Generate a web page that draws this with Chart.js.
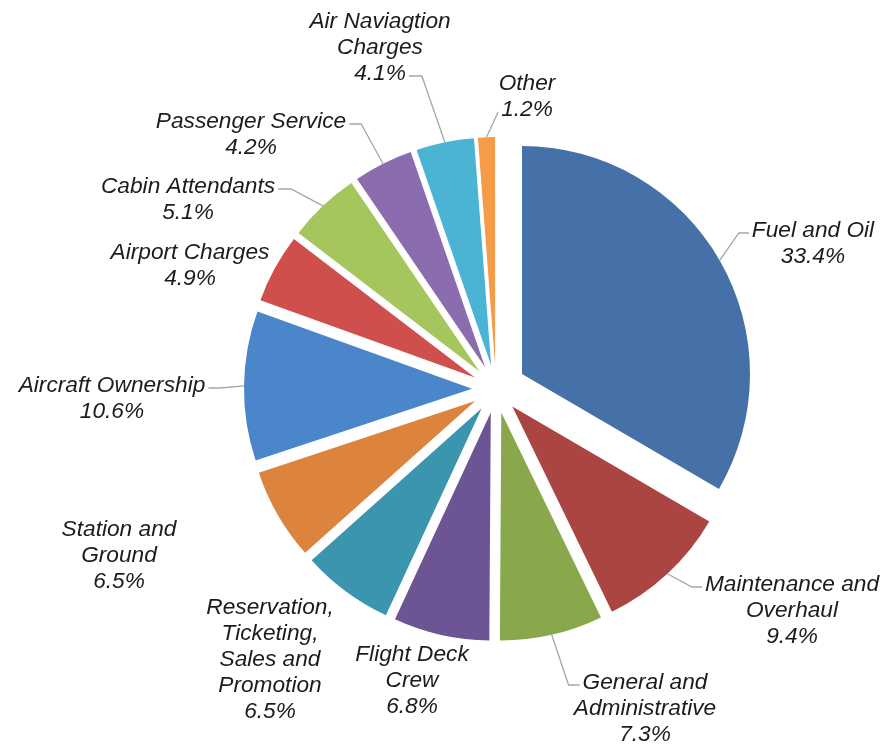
<!DOCTYPE html>
<html>
<head>
<meta charset="utf-8">
<script src="https://cdn.jsdelivr.net/npm/chart.js@4/dist/chart.umd.min.js"></script>
<style>
  html, body { margin: 0; padding: 0; background: #fff; }
  #wrap { width: 893px; height: 746px; }
</style>
</head>
<body>
<div id="wrap"><canvas id="chart" width="893" height="746"></canvas></div>
<script>
// categories, drawn clockwise from 12 o'clock (line breaks as in the source labels)
const categories = [
  ['Fuel and Oil'],
  ['Maintenance and', 'Overhaul'],
  ['General and', 'Administrative'],
  ['Flight Deck', 'Crew'],
  ['Reservation,', 'Ticketing,', 'Sales and', 'Promotion'],
  ['Station and', 'Ground'],
  ['Aircraft Ownership'],
  ['Airport Charges'],
  ['Cabin Attendants'],
  ['Passenger Service'],
  ['Air Naviagtion', 'Charges'],
  ['Other']
];
const shares = [33.4, 9.4, 7.3, 6.8, 6.5, 6.5, 10.6, 4.9, 5.1, 4.2, 4.1, 1.2];

const colors = [
  '#4570a8', '#aa4541', '#88a84b', '#6d5494', '#3b95ae', '#dc843e',
  '#4a86c9', '#ce4f4b', '#a5c65c', '#8a6caf', '#4bb3d3', '#f69b48'
];

// how far each slice is pulled out from the centre (px)
const pullOut = [30, 24, 24, 24, 24, 24, 24, 24, 24, 24, 24, 24];
const pieRadius = 228;

// label placement relative to the pie centre: [dx, dy] of first line centre
const labelAt = [
  [317, -158], [296, 196], [149, 294], [-84, 266], [-226, 219], [-377, 141],
  [-384, -3], [-306, -136], [-308, -202], [-245, -267], [-116, -367], [31, -305]
];
// leader line: [side, line index, bend length] or null
const leaders = [
  ['L', 0, 10], ['L', 0, 10], ['L', 0, 11], null, null, null,
  ['R', 0, 12], null, ['R', 0, 13], ['R', 0, 12], ['R', 2, 13], ['L', 1, 0]
];

const FONT = 'italic 22.7px "Liberation Sans", Arial, sans-serif';
const LINE_H = 26;

// Chart.js grows and narrows pulled-out arcs a bit; undo that so slices keep
// one radius and their full angle
const keepRadius = {
  id: 'keepRadius',
  beforeDatasetsDraw(chart) {
    const meta = chart.getDatasetMeta(0);
    meta.data.forEach((arc, i) => {
      if (!arc.$base) arc.$base = [arc.startAngle, arc.endAngle];
      const t = pullOut[i];
      const fix = 1 - Math.sin(Math.min(Math.PI, arc.circumference));
      const grow = t * fix;
      arc.outerRadius = pieRadius - grow;
      const widen = grow / (Math.PI * pieRadius) / 2;
      arc.startAngle = arc.$base[0] - widen;
      arc.endAngle = arc.$base[1] + widen;
    });
  }
};

const outsideLabels = {
  id: 'outsideLabels',
  afterDatasetsDraw(chart) {
    const ctx = chart.ctx;
    const meta = chart.getDatasetMeta(0);
    ctx.save();
    ctx.font = FONT;
    ctx.textAlign = 'center';
    ctx.textBaseline = 'middle';
    meta.data.forEach((arc, i) => {
      const cx = arc.x, cy = arc.y;
      const lines = categories[i].concat([shares[i].toFixed(1) + '%']);
      const lx = cx + labelAt[i][0];
      const ly = cy + labelAt[i][1];

      const ld = leaders[i];
      if (ld) {
        const mid = (arc.startAngle + arc.endAngle) / 2;
        const t = pullOut[i];
        const sx = cx + Math.cos(mid) * (t + pieRadius);
        const sy = cy + Math.sin(mid) * (t + pieRadius);
        const w = ctx.measureText(lines[ld[1]]).width;
        const ey = ly + ld[1] * LINE_H + 2;
        const ex = ld[0] === 'L' ? lx - w / 2 - 3 : lx + w / 2 + 3;
        const bx = ld[0] === 'L' ? ex - ld[2] : ex + ld[2];
        ctx.strokeStyle = '#a6a6a6';
        ctx.lineWidth = 1.3;
        ctx.beginPath();
        ctx.moveTo(sx, sy);
        ctx.lineTo(bx, ey);
        ctx.lineTo(ex, ey);
        ctx.stroke();
      }

      ctx.fillStyle = '#1c1c1c';
      lines.forEach((txt, k) => ctx.fillText(txt, lx, ly + k * LINE_H));
    });
    ctx.restore();
  }
};

new Chart(document.getElementById('chart'), {
  type: 'pie',
  data: {
    labels: categories,
    datasets: [{
      data: shares,
      backgroundColor: colors,
      borderWidth: 0,
      offset: pullOut.map(p => p * 4)
    }]
  },
  options: {
    responsive: false,
    animation: false,
    radius: pieRadius,
    layout: { padding: { left: 99, top: 32, right: 0, bottom: 0 } },
    plugins: {
      legend: { display: false },
      tooltip: { enabled: false }
    }
  },
  plugins: [keepRadius, outsideLabels]
});
</script>
</body>
</html>
